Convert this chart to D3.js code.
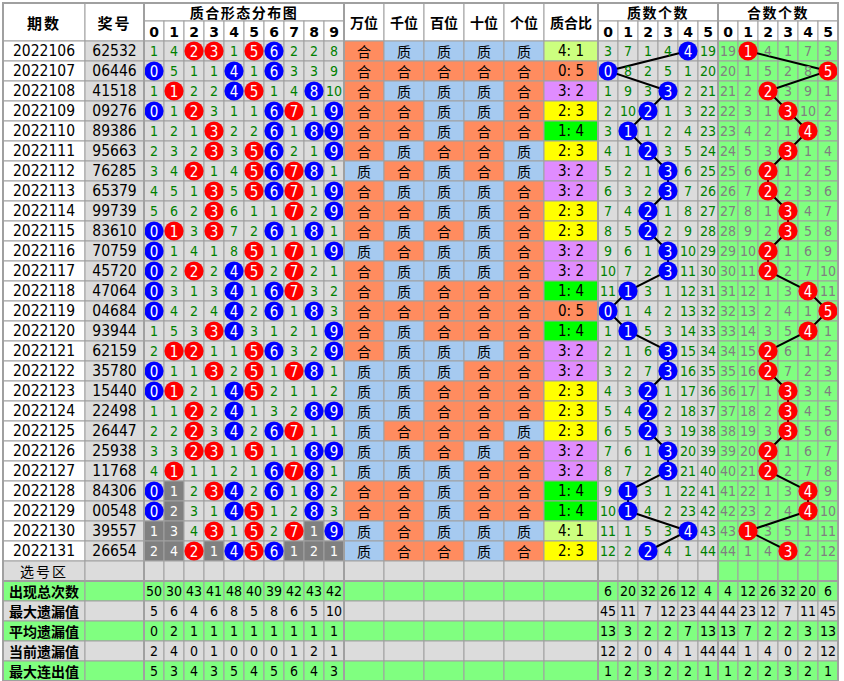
<!DOCTYPE html>
<html><head><meta charset="utf-8">
<script src="https://cdn.jsdelivr.net/npm/d3@7"></script>
<style>body{margin:0;background:#fff}svg{display:block}</style>
</head><body><svg id="c" width="844" height="681"></svg>
<script>
const periods = ["2022106","2022107","2022108","2022109","2022110","2022111","2022112","2022113","2022114","2022115","2022116","2022117","2022118","2022119","2022120","2022121","2022122","2022123","2022124","2022125","2022126","2022127","2022128","2022129","2022130","2022131"];
const draws = ["62532","06446","41518","09276","89386","95663","76285","65379","99739","83610","70759","45720","47064","04684","93944","62159","35780","15440","22498","26447","25938","11768","84306","00548","39557","26654"];
// omission values as shown; 0 = hit (drawn as ball)
const digitMiss = [
[1,4,0,0,1,0,0,2,2,8],[0,5,1,1,0,1,0,3,3,9],[1,0,2,2,0,0,1,4,0,10],[0,1,0,3,1,1,0,0,1,0],
[1,2,1,0,2,2,0,1,0,0],[2,3,2,0,3,0,0,2,1,0],[3,4,0,1,4,0,0,0,0,1],[4,5,1,0,5,0,0,0,1,0],
[5,6,2,0,6,1,1,0,2,0],[0,0,3,0,7,2,0,1,0,1],[0,1,4,1,8,0,1,0,1,0],[0,2,0,2,0,0,2,0,2,1],
[0,3,1,3,0,1,0,0,3,2],[0,4,2,4,0,2,0,1,0,3],[1,5,3,0,0,3,1,2,1,0],[2,0,0,1,1,0,0,3,2,0],
[0,1,1,0,2,0,1,0,0,1],[0,0,2,1,0,0,2,1,1,2],[1,1,0,2,0,1,3,2,0,0],[2,2,0,3,0,2,0,0,1,1],
[3,3,0,0,1,0,1,1,0,0],[4,0,1,1,2,1,0,0,0,1],[0,1,2,0,0,2,0,1,0,2],[0,2,3,1,0,0,1,2,0,3],
[1,3,4,0,1,0,2,0,1,0],[2,4,0,1,0,0,0,1,2,1]];
const primeMiss = [
[3,7,1,4,0,19],[0,8,2,5,1,20],[1,9,3,0,2,21],[2,10,0,1,3,22],[3,0,1,2,4,23],[4,1,0,3,5,24],
[5,2,1,0,6,25],[6,3,2,0,7,26],[7,4,0,1,8,27],[8,5,0,2,9,28],[9,6,1,0,10,29],[10,7,2,0,11,30],
[11,0,3,1,12,31],[0,1,4,2,13,32],[1,0,5,3,14,33],[2,1,6,0,15,34],[3,2,7,0,16,35],[4,3,0,1,17,36],
[5,4,0,2,18,37],[6,5,0,3,19,38],[7,6,1,0,20,39],[8,7,2,0,21,40],[9,0,3,1,22,41],[10,0,4,2,23,42],
[11,1,5,3,0,43],[12,2,0,4,1,44]];
const compMiss = [
[19,0,4,1,7,3],[20,1,5,2,8,0],[21,2,0,3,9,1],[22,3,1,0,10,2],[23,4,2,1,0,3],[24,5,3,0,1,4],
[25,6,0,1,2,5],[26,7,0,2,3,6],[27,8,1,0,4,7],[28,9,2,0,5,8],[29,10,0,1,6,9],[30,11,0,2,7,10],
[31,12,1,3,0,11],[32,13,2,4,1,0],[33,14,3,5,0,1],[34,15,0,6,1,2],[35,16,0,7,2,3],[36,17,1,0,3,4],
[37,18,2,0,4,5],[38,19,3,0,5,6],[39,20,0,1,6,7],[40,21,0,2,7,8],[41,22,1,3,0,9],[42,23,2,4,0,10],
[43,0,3,5,1,11],[44,1,4,0,2,12]];
const digitLabels = ["0","1","2","3","4","5","6","7","8","9"];
const countLabels = ["0","1","2","3","4","5"];
const posLabels = ["万位","千位","百位","十位","个位"];
const primeDigits = [1,2,3,5,7];
const statLabels = ["出现总次数","最大遗漏值","平均遗漏值","当前遗漏值","最大连出值"];
const statDigit = [[50,30,43,41,48,40,39,42,43,42],[5,6,4,6,8,5,8,6,5,10],[0,2,1,1,1,1,1,1,1,1],[2,4,0,1,0,0,0,1,2,1],[5,3,4,3,5,4,5,6,4,3]];
const statPrime = [[6,20,32,26,12,4],[45,11,7,12,23,44],[13,3,2,2,7,13],[12,2,0,4,1,44],[1,2,3,2,2,1]];
const statComp = [[4,12,26,32,20,6],[44,23,12,7,11,45],[13,7,2,2,3,13],[44,1,4,0,2,12],[1,2,2,3,2,1]];

const C = {grid:"#a0a0a0", gray:"#dcdcdc", green:"#80ff80", yellow:"#ffff00", dark:"#808080",
  he:"#ff8c5f", zhi:"#a6caf0", red:"#ff0000", blue:"#0000ff", txtGreen:"#008000", txtGray:"#808080"};
const ratioColor = {"4:1":"#ccff7f","0:5":"#ff8c5f","3:2":"#e08cff","2:3":"#ffff00","1:4":"#00ff00","5:0":"#ccff7f"};
const NUM = "'Liberation Sans Narrow','Arial Narrow','DejaVu Sans Condensed',sans-serif";
const CJK = "'Noto Sans CJK SC','Noto Sans',sans-serif";

const svg = d3.select("#c");
const X = {l:3, per:85, dig0:144, dig1:344, pos1:544, rat1:598, pr1:718, r:838};
const Y = {t:3, h1:21, h2:41, rows1:561, sel1:581, b:681};

const xDigit = d3.scaleBand().domain(digitLabels).range([X.dig0, X.dig1]);
const xPos = d3.scaleBand().domain(posLabels).range([X.dig1, X.pos1]);
const xPrime = d3.scaleBand().domain(countLabels).range([X.rat1, X.pr1]);
const xComp = d3.scaleBand().domain(countLabels).range([X.pr1, X.r]);
const yRow = d3.scaleBand().domain(periods).range([Y.h2, Y.rows1]);
const yStat = d3.scaleBand().domain(statLabels).range([Y.sel1, Y.b]);

const gBg = svg.append("g"), gLine = svg.append("g"), gBall = svg.append("g"), gTxt = svg.append("g");
function cell(x, y, w, h, fill){
  gBg.append("rect").attr("x",x).attr("y",y).attr("width",w).attr("height",h)
    .attr("fill",fill).attr("stroke",C.grid).attr("stroke-width",1);
}
function text(x, y, s, opt={}){
  gTxt.append("text").attr("x",x).attr("y",y).attr("text-anchor","middle").attr("dominant-baseline","central")
    .attr("font-family",opt.font||NUM).attr("font-size",opt.size||14).attr("font-weight",opt.bold?"bold":"normal")
    .attr("fill",opt.color||"#000").attr("letter-spacing",opt.ls||0).text(s);
}
function ball(cx, cy, color, s){
  gBall.append("circle").attr("cx",cx).attr("cy",cy).attr("r",9.6).attr("fill",color);
  gBall.append("text").attr("x",cx).attr("y",cy+0.5).attr("text-anchor","middle").attr("dominant-baseline","central")
    .attr("font-family",NUM).attr("font-size",15).attr("fill","#fff").text(s);
}

// ---------- header ----------
const HB = {bold:true, font:CJK, size:14};
cell(X.l, Y.t, X.per-X.l, Y.h2-Y.t, "#fff"); text((X.l+X.per)/2, (Y.t+Y.h2)/2, "期数", {...HB, size:15, ls:2});
cell(X.per, Y.t, X.dig0-X.per, Y.h2-Y.t, "#fff"); text((X.per+X.dig0)/2, (Y.t+Y.h2)/2, "奖号", {...HB, size:15, ls:2});
cell(X.dig0, Y.t, X.dig1-X.dig0, Y.h1-Y.t, "#fff"); text((X.dig0+X.dig1)/2, (Y.t+Y.h1)/2, "质合形态分布图", {...HB, ls:1.5});
digitLabels.forEach(d=>{ cell(xDigit(d), Y.h1, xDigit.bandwidth(), Y.h2-Y.h1, "#fff");
  text(xDigit(d)+xDigit.bandwidth()/2, (Y.h1+Y.h2)/2+1, d, {bold:true, size:14, font:"'DejaVu Sans',sans-serif"}); });
posLabels.forEach(p=>{ cell(xPos(p), Y.t, xPos.bandwidth(), Y.h2-Y.t, "#fff");
  text(xPos(p)+xPos.bandwidth()/2, (Y.t+Y.h2)/2, p, HB); });
cell(X.pos1, Y.t, X.rat1-X.pos1, Y.h2-Y.t, "#fff"); text((X.pos1+X.rat1)/2, (Y.t+Y.h2)/2, "质合比", HB);
cell(X.rat1, Y.t, X.pr1-X.rat1, Y.h1-Y.t, "#fff"); text((X.rat1+X.pr1)/2, (Y.t+Y.h1)/2, "质数个数", {...HB, ls:1.5});
cell(X.pr1, Y.t, X.r-X.pr1, Y.h1-Y.t, "#fff"); text((X.pr1+X.r)/2, (Y.t+Y.h1)/2, "合数个数", {...HB, ls:1.5});
countLabels.forEach(d=>{
  [xPrime, xComp].forEach(sc=>{ cell(sc(d), Y.h1, sc.bandwidth(), Y.h2-Y.h1, "#fff");
    text(sc(d)+sc.bandwidth()/2, (Y.h1+Y.h2)/2+1, d, {bold:true, size:14, font:"'DejaVu Sans',sans-serif"}); });
});

// ---------- data rows ----------
const lastHit = digitLabels.map((d,j)=>d3.max(digitMiss.map((r,i)=>r[j]===0?i:-1)));
function drawColor(s){
  const cnt = Object.values(d3.rollup(s.split(""), v=>v.length, d=>d)).sort((a,b)=>b-a);
  if (cnt[0]>=3 || (cnt[0]===2 && cnt[1]===2)) return C.yellow;
  if (cnt[0]===2) return C.green;
  return C.gray;
}
const primePts = [], compPts = [];
periods.forEach((p,i)=>{
  const y = yRow(p), h = yRow.bandwidth(), cy = y+h/2;
  const s = draws[i];
  cell(X.l, y, X.per-X.l, h, "#fff"); text((X.l+X.per)/2, cy, p, {size:15.5});
  cell(X.per, y, X.dig0-X.per, h, drawColor(s)); text((X.per+X.dig0)/2, cy, s, {size:15.5});
  digitLabels.forEach((d,j)=>{
    const x = xDigit(d), w = xDigit.bandwidth(), v = digitMiss[i][j];
    const darkCell = i > lastHit[j];
    cell(x, y, w, h, darkCell ? C.dark : C.gray);
    if (v===0) ball(x+w/2, cy, primeDigits.includes(+d)?C.red:C.blue, d);
    else text(x+w/2, cy, v, {color: darkCell ? "#fff" : C.txtGreen});
  });
  let np = 0;
  posLabels.forEach((pl,k)=>{
    const isP = primeDigits.includes(+s[k]); if (isP) np++;
    cell(xPos(pl), y, xPos.bandwidth(), h, isP?C.zhi:C.he);
    text(xPos(pl)+xPos.bandwidth()/2, cy, isP?"质":"合", {font:CJK, size:14});
  });
  const key = np+":"+(5-np);
  cell(X.pos1, y, X.rat1-X.pos1, h, ratioColor[key]);
  text((X.pos1+X.rat1)/2, cy, np+": "+(5-np), {size:15});
  countLabels.forEach((d,k)=>{
    const vp = primeMiss[i][k], vc = compMiss[i][k];
    cell(xPrime(d), y, xPrime.bandwidth(), h, C.gray);
    cell(xComp(d), y, xComp.bandwidth(), h, C.green);
    if (vp===0){ primePts.push([xPrime(d)+xPrime.bandwidth()/2, cy]); ball(xPrime(d)+xPrime.bandwidth()/2, cy, C.blue, d); }
    else text(xPrime(d)+xPrime.bandwidth()/2, cy, vp, {color:C.txtGreen});
    if (vc===0){ compPts.push([xComp(d)+xComp.bandwidth()/2, cy]); ball(xComp(d)+xComp.bandwidth()/2, cy, C.red, d); }
    else text(xComp(d)+xComp.bandwidth()/2, cy, vc, {color:C.txtGray});
  });
});
const line = d3.line();
[primePts, compPts].forEach(pts=>{
  gLine.append("path").attr("d", line(pts)).attr("fill","none").attr("stroke","#000").attr("stroke-width",2);
});

// ---------- 选号区 row ----------
{
  const y = Y.rows1, h = Y.sel1-Y.rows1, cy = y+h/2;
  cell(X.l, y, X.per-X.l, h, C.gray); text((X.l+X.per)/2, cy, "选号区", {font:CJK, size:14, ls:2});
  cell(X.per, y, X.dig0-X.per, h, C.gray);
  digitLabels.forEach(d=>cell(xDigit(d), y, xDigit.bandwidth(), h, C.gray));
  posLabels.forEach(p=>cell(xPos(p), y, xPos.bandwidth(), h, C.gray));
  cell(X.pos1, y, X.rat1-X.pos1, h, C.gray);
  countLabels.forEach(d=>{ cell(xPrime(d), y, xPrime.bandwidth(), h, C.gray); cell(xComp(d), y, xComp.bandwidth(), h, C.green); });
}

// ---------- stats ----------
statLabels.forEach((lab,r)=>{
  const y = yStat(lab), h = yStat.bandwidth(), cy = y+h/2;
  const bg = r%2===0 ? C.green : C.gray;
  cell(X.l, y, X.per-X.l, h, bg); text((X.l+X.per)/2, cy, lab, {font:CJK, size:14, bold:true});
  cell(X.per, y, X.dig0-X.per, h, bg);
  digitLabels.forEach((d,j)=>{ cell(xDigit(d), y, xDigit.bandwidth(), h, bg); text(xDigit(d)+xDigit.bandwidth()/2, cy, statDigit[r][j], {size:14}); });
  posLabels.forEach(p=>cell(xPos(p), y, xPos.bandwidth(), h, bg));
  cell(X.pos1, y, X.rat1-X.pos1, h, bg);
  countLabels.forEach((d,k)=>{
    cell(xPrime(d), y, xPrime.bandwidth(), h, bg); text(xPrime(d)+xPrime.bandwidth()/2, cy, statPrime[r][k], {size:14});
    cell(xComp(d), y, xComp.bandwidth(), h, bg); text(xComp(d)+xComp.bandwidth()/2, cy, statComp[r][k], {size:14});
  });
});

// ---------- section separators ----------
const sep = svg.append("g").attr("stroke",C.grid).attr("stroke-width",2);
[X.dig0, X.dig1, X.rat1, X.pr1].forEach(x=>sep.append("line").attr("x1",x).attr("x2",x).attr("y1",Y.t).attr("y2",Y.b));
sep.append("line").attr("x1",X.l).attr("x2",X.r).attr("y1",Y.sel1).attr("y2",Y.sel1);
svg.append("rect").attr("x",X.l).attr("y",Y.t).attr("width",X.r-X.l).attr("height",Y.b-Y.t)
  .attr("fill","none").attr("stroke",C.grid).attr("stroke-width",2);
</script></body></html>
